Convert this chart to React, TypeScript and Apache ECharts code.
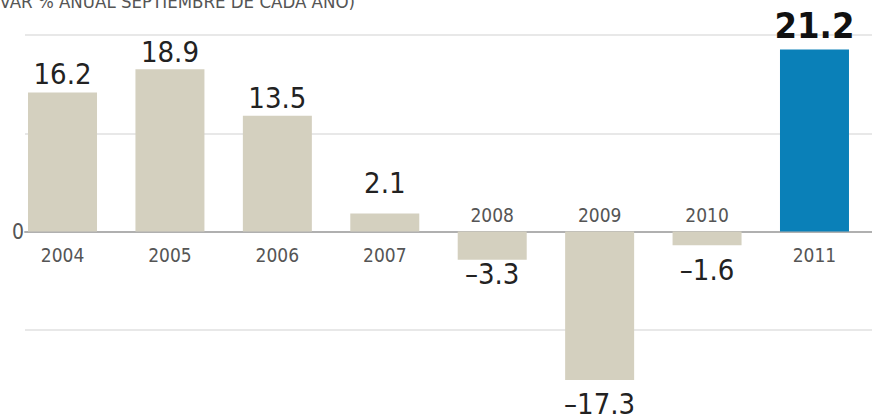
import React, { useEffect, useRef } from 'react';
import * as echarts from 'echarts';

const years = ['2004', '2005', '2006', '2007', '2008', '2009', '2010', '2011'];
const values = [16.2, 18.9, 13.5, 2.1, -3.3, -17.3, -1.6, 21.2];
const axisMin = -22.9;
const axisMax = 22.9;
const axisStep = 11.45;
const titleText = '(VAR % ANUAL SEPTIEMBRE DE CADA AÑO)';
const highlightIndex = 7;

// label spacing (style only)
const labelDistance = [4, 3, 3, 16, 0, 10, 10, 6];

const FONT = '"DejaVu Sans Condensed", "DejaVu Sans", sans-serif';
const BEIGE = '#d4d0bf';
const BLUE = '#0a80b8';

export default function App() {
  const ref = useRef<HTMLDivElement>(null);
  useEffect(() => {
    if (!ref.current) return;
    const chart = echarts.init(ref.current, undefined, { renderer: 'svg' });
    const fmtNum = (v: number) => v.toFixed(1).replace('-', '\u2013');
    const option: any = {
      animation: false,
      backgroundColor: '#ffffff',
      graphic: [
        {
          type: 'text',
          x: 355,
          y: 1,
          style: {
            text: titleText,
            fill: '#555',
            font: `18.5px ${FONT}`,
            align: 'right',
            verticalAlign: 'middle',
          },
        },
      ],
      grid: [
        { left: 8.8, right: 3.8, top: 35, bottom: -8, outerBoundsMode: 'none', containLabel: false },
        { left: 25, right: 0, top: 35, bottom: -8, outerBoundsMode: 'none', containLabel: false },
      ],
      xAxis: [
        {
          type: 'category',
          gridIndex: 0,
          data: years,
          axisLine: { show: false },
          axisTick: { show: false },
          axisLabel: { show: false },
          splitLine: { show: false },
        },
        {
          type: 'value',
          gridIndex: 1,
          min: 0,
          max: 1,
          axisLine: { show: true, onZero: true, lineStyle: { color: '#b0b0b0', width: 2 } },
          axisTick: { show: false },
          axisLabel: { show: false },
          splitLine: { show: false },
        },
      ],
      yAxis: [
        {
          type: 'value',
          gridIndex: 0,
          min: axisMin,
          max: axisMax,
          interval: axisStep,
          axisLine: { show: false },
          axisTick: { show: false },
          axisLabel: { show: false },
          splitLine: { show: false },
        },
        {
          type: 'value',
          gridIndex: 1,
          min: axisMin,
          max: axisMax,
          interval: axisStep,
          axisLine: { show: false },
          axisTick: { show: false },
          axisLabel: {
            margin: 1,
            color: '#555',
            fontFamily: FONT,
            fontSize: 21,
            formatter: (v: number) => (Math.abs(v) < 1e-6 ? '0' : ''),
          },
          splitLine: { show: true, lineStyle: { color: '#e8e8e8', width: 2 } },
        },
      ],
      series: [
        {
          type: 'bar',
          xAxisIndex: 0,
          yAxisIndex: 0,
          barWidth: 69,
          data: values.map((v, i) => ({
            value: v,
            itemStyle: { color: i === highlightIndex ? BLUE : BEIGE },
            label: {
              show: true,
              position: v >= 0 ? 'top' : 'bottom',
              distance: labelDistance[i],
              formatter: () => fmtNum(v),
              color: i === highlightIndex ? '#111' : '#222',
              fontFamily: FONT,
              fontSize: i === highlightIndex ? 36 : 29,
              fontWeight: i === highlightIndex ? 'bold' : 'normal',
            },
          })),
        },
        {
          // year labels anchored on the zero line: below for gains, above for losses
          type: 'scatter',
          xAxisIndex: 0,
          yAxisIndex: 0,
          symbol: 'circle',
          symbolSize: 0,
          itemStyle: { color: '#555' },
          silent: true,
          z: 5,
          data: years.map((y, i) => ({
            value: [i, 0],
            label: {
              show: true,
              position: values[i] >= 0 ? 'bottom' : 'top',
              distance: values[i] >= 0 ? 14 : 7,
              formatter: y,
              color: '#555',
              opacity: 1,
              fontFamily: FONT,
              fontSize: 19,
            },
          })),
        },
      ],
    };
    chart.setOption(option);
    return () => chart.dispose();
  }, []);
  return (
    <div
      ref={ref}
      style={{ position: 'absolute', left: 0, top: 0, width: 872, height: 420 }}
    />
  );
}
